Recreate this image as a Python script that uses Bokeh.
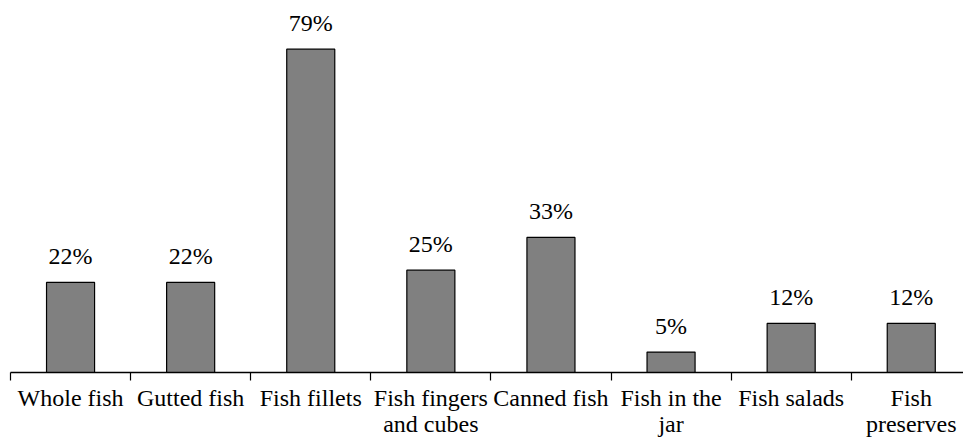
from bokeh.plotting import figure
from bokeh.models import Range1d, FixedTicker, ColumnDataSource
from bokeh.core.properties import value
from bokeh.embed import file_html
from bokeh.resources import INLINE

# Share of respondents buying each fish product
categories = ["Whole fish", "Gutted fish", "Fish fillets", "Fish fingers\nand cubes",
              "Canned fish", "Fish in the\njar", "Fish salads", "Fish\npreserves"]
shares = [22, 22, 79, 25, 33, 5, 12, 12]
share_labels = [f"{s}%" for s in shares]

FONT = "Liberation Serif"
FONT_SIZE = "24px"

# Categories sit at the centres of unit-wide slots: 0.5, 1.5, ...
centers = [i + 0.5 for i in range(len(categories))]
src = ColumnDataSource(dict(x=centers, top=shares, label=share_labels))

p = figure(width=963, height=439, output_backend="svg", toolbar_location=None,
           x_range=Range1d(0, 7.935), y_range=Range1d(0, 90.9),
           min_border_left=10, min_border_right=0, min_border_top=0,
           min_border_bottom=0)
p.outline_line_color = None
p.xgrid.visible = False
p.ygrid.visible = False
p.yaxis.visible = False

p.vbar(x="x", top="top", bottom=0, width=0.4, source=src,
       fill_color="#808080", line_color="black", line_width=1.2)

p.text(x="x", y="top", text="label", source=src, y_offset=-26,
       text_align="center", text_baseline="alphabetic",
       text_font=value(FONT), text_font_size=FONT_SIZE, text_color="black")

# Axis: labels under slot centres, ticks on slot boundaries
ax = p.xaxis[0]
ax.ticker = FixedTicker(ticks=centers, minor_ticks=list(range(len(categories) + 1)))
ax.major_label_overrides = {c: lab for c, lab in zip(centers, categories)}
ax.major_tick_line_color = None
ax.major_tick_in = 0
ax.major_tick_out = 0
ax.minor_tick_in = 0
ax.minor_tick_out = 8
ax.minor_tick_line_color = "black"
ax.minor_tick_line_width = 1.2
ax.axis_line_color = "black"
ax.axis_line_width = 1.5
ax.major_label_standoff = 4
ax.major_label_text_font = FONT
ax.major_label_text_font_size = FONT_SIZE
ax.major_label_text_color = "black"
ax.major_label_text_line_height = 1.0

open("out.html", "w").write(file_html(p, INLINE))
